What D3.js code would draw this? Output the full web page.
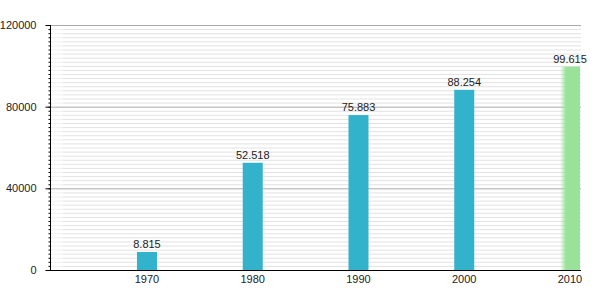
<!DOCTYPE html>
<html><head><meta charset="utf-8">
<script src="https://cdn.jsdelivr.net/npm/d3@7"></script>
<style>body{margin:0;background:#fff}svg{display:block}text{font-family:"Liberation Sans",Arial,sans-serif}</style>
</head><body>
<svg id="c" width="600" height="300"></svg>
<script>
const years = [1970, 1980, 1990, 2000, 2010];
const population = [8815, 52518, 75883, 88254, 99615];
const labels = ["8.815", "52.518", "75.883", "88.254", "99.615"];
const yTicks = [0, 40000, 80000, 120000];

const svg = d3.select("#c");
const x = d3.scaleLinear().domain([1960.83, 2011.04]).range([50, 581]);
const y = d3.scaleLinear().domain([0, 120000]).range([270, 25]);
const minor = d3.range(0, 120001, 2000);

const defs = svg.append("defs");
const g = defs.append("linearGradient").attr("id","gr").attr("x1","0").attr("x2","1").attr("y1","0").attr("y2","0");
g.append("stop").attr("offset","0").attr("stop-color","#9ae29a").attr("stop-opacity",0);
g.append("stop").attr("offset","0.3").attr("stop-color","#9ae29a").attr("stop-opacity",1);
g.append("stop").attr("offset","1").attr("stop-color","#9ae29a").attr("stop-opacity",1);

// minor grid lines
svg.append("g").selectAll("line").data(minor.filter(v => v % 40000 !== 0)).join("line")
  .attr("x1", 63).attr("x2", x.range()[1]).attr("y1", d => y(d) + 0.5).attr("y2", d => y(d) + 0.5)
  .attr("stroke", "#e2e2e2");
svg.append("g").selectAll("line").data(minor.filter(v => v % 40000 !== 0)).join("line")
  .attr("x1", 50).attr("x2", 63).attr("y1", d => y(d) + 0.5).attr("y2", d => y(d) + 0.5)
  .attr("stroke", "#f0f0f0");
// major grid lines
svg.append("g").selectAll("line").data(yTicks.filter(v => v > 0)).join("line")
  .attr("x1", 50).attr("x2", x.range()[1]).attr("y1", d => y(d) + 0.5).attr("y2", d => y(d) + 0.5)
  .attr("stroke", "#aaaaaa");

// bars
svg.append("g").selectAll("rect").data(years).join("rect")
  .attr("x", (d) => x(d) - 10).attr("width", 20)
  .attr("y", (d, i) => y(population[i])).attr("height", (d, i) => y(0) - y(population[i]))
  .attr("fill", (d, i) => i === years.length - 1 ? "url(#gr)" : "#33b3cb");

// value labels
svg.append("g").selectAll("text").data(years).join("text")
  .attr("x", d => x(d)).attr("y", (d, i) => y(population[i]) - 4)
  .attr("text-anchor", "middle").attr("font-size", 11).attr("fill", "#222")
  .text((d, i) => labels[i]);

// y axis
const yAxis = svg.append("g").attr("transform", "translate(50.5,0)");
yAxis.append("line").attr("x1",0).attr("x2",0).attr("y1",y(120000)).attr("y2",y(0)+0.5).attr("stroke","#000");
yAxis.selectAll("line.mn").data(minor).join("line").attr("class","mn")
  .attr("x1",-2).attr("x2",0).attr("y1",d=>y(d)+0.5).attr("y2",d=>y(d)+0.5).attr("stroke","#000");
yAxis.selectAll("line.mj").data(yTicks).join("line").attr("class","mj")
  .attr("x1",-5).attr("x2",0).attr("y1",d=>y(d)+0.5).attr("y2",d=>y(d)+0.5).attr("stroke","#000");
yAxis.selectAll("text").data(yTicks).join("text")
  .attr("x",-14).attr("y",d=>y(d)+4).attr("text-anchor","end").attr("font-size",11).attr("fill","#222")
  .text(d=>d);

// x axis
const xAxis = svg.append("g").attr("transform", "translate(0,270.5)");
xAxis.append("line").attr("x1",50).attr("x2",x.range()[1]).attr("y1",0).attr("y2",0).attr("stroke","#000");
xAxis.selectAll("text").data(years).join("text")
  .attr("x",d=>x(d)).attr("y",12).attr("text-anchor","middle").attr("font-size",11).attr("fill","#222")
  .text(d=>d);
</script>
</body></html>
